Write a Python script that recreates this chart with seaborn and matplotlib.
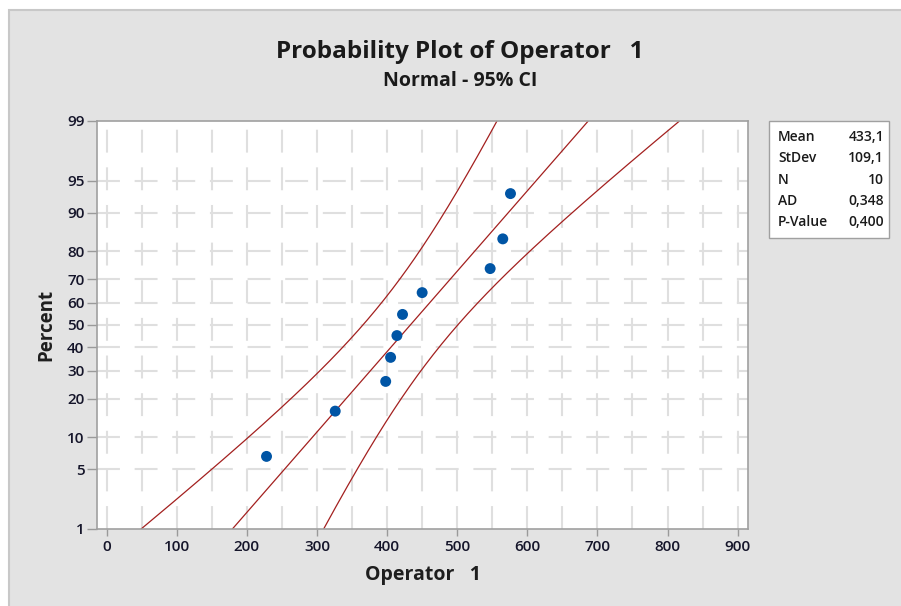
import math
import numpy as np
import pandas as pd
import matplotlib
matplotlib.use("Agg")
import matplotlib.pyplot as plt
from matplotlib.patches import Rectangle
import seaborn as sns

# ---- data ----
operator_values = [228, 326, 398, 405, 414, 422, 450, 547, 565, 576]
percent_positions = [6.7, 16.3, 26.0, 35.6, 45.2, 54.8, 64.4, 74.0, 83.7, 93.3]
mean_val = 433.1
stdev_val = 109.1
n_obs = 10
ad_val = "0,348"
p_value = "0,400"
y_tick_pct = [1, 5, 10, 20, 30, 40, 50, 60, 70, 80, 90, 95, 99]
x_ticks = [0, 100, 200, 300, 400, 500, 600, 700, 800, 900]

sns.set_theme(style="white")
plt.rcParams['font.family'] = ['Open Sans', 'DejaVu Sans']
plt.rcParams['lines.scale_dashes'] = False


def norm_ppf(p):
    # inverse standard normal via Newton iterations on erf
    z = 0.0
    for _ in range(60):
        cdf = 0.5 * (1 + math.erf(z / math.sqrt(2)))
        pdf = math.exp(-z * z / 2) / math.sqrt(2 * math.pi)
        z -= (cdf - p) / pdf
    return z


pts = pd.DataFrame({"x": operator_values,
                    "z": [norm_ppf(p / 100) for p in percent_positions]})

# fitted line and 95% CI from the reported statistics
zline = np.linspace(norm_ppf(0.01), norm_ppf(0.99), 200)
fit = mean_val + stdev_val * zline
se = stdev_val * np.sqrt(1 / n_obs + zline ** 2 / (2 * n_obs))
lines = pd.concat([
    pd.DataFrame({"x": fit, "z": zline, "kind": "fit"}),
    pd.DataFrame({"x": fit - 1.96 * se, "z": zline, "kind": "lower"}),
    pd.DataFrame({"x": fit + 1.96 * se, "z": zline, "kind": "upper"}),
])

fig = plt.figure(figsize=(9.01, 6.06), dpi=100)
fig.patch.set_facecolor("white")
fig.patches.append(Rectangle((9 / 901, -0.01), 1.0, (606 - 10) / 606 + 0.01,
                             transform=fig.transFigure, facecolor="#E3E3E3",
                             edgecolor="#C8C8C8", linewidth=1.5, zorder=-5))

ax = fig.add_axes([97 / 901, 1 - 529 / 606, (748 - 97) / 901, (529 - 121) / 606])
ax.set_zorder(1)
ax.set_facecolor("white")

zlo, zhi = norm_ppf(0.01), norm_ppf(0.99)
ax.set_xlim(-13.8, 914.8)
ax.set_ylim(zlo, zhi)

# dashed grid
grid_kw = dict(color="#DFDFDF", linewidth=1.5, linestyle=(0, (16.5, 10.6)), zorder=0.5)
for gx in np.arange(0, 901, 50):
    ax.axvline(gx, **grid_kw)
for p in y_tick_pct[1:-1]:
    ax.axhline(norm_ppf(p / 100), **grid_kw)

for kind, sub in lines.groupby("kind"):
    sns.lineplot(data=sub, x="x", y="z", sort=False, estimator=None, ax=ax,
                 color="#A3201F", linewidth=0.9, zorder=2)

sns.scatterplot(data=pts, x="x", y="z", ax=ax, color="#0055A5", s=62,
                edgecolor="none", zorder=3)

ax.set_yticks([norm_ppf(p / 100) for p in y_tick_pct])
ax.set_yticklabels([str(p) for p in y_tick_pct])
ax.set_xticks(x_ticks)
ax.set_xticklabels([str(t) for t in x_ticks])
ax.tick_params(axis="both", direction="out", colors="#9A9A9A", labelcolor="#15152A",
               labelsize=11)
ax.tick_params(axis="y", length=7, width=1, left=True, pad=2)
ax.tick_params(axis="x", length=5, width=1, bottom=True, pad=3)
for lab in ax.get_xticklabels() + ax.get_yticklabels():
    lab.set_fontweight("semibold")
for s in ax.spines.values():
    s.set_color("#A0A0A0")
    s.set_linewidth(1.2)

ax.set_xlabel("Operator   1", fontsize=14, fontweight="bold", color="#1E1E1E", labelpad=8)
ax.set_ylabel("Percent", fontsize=13.5, fontweight="bold", color="#1E1E1E", labelpad=8)

fig.text(460 / 901, 1 - 52 / 606, "Probability Plot of Operator   1", ha="center",
         va="center", fontsize=17.5, fontweight="bold", color="#1A1A1A")
fig.text(460 / 901, 1 - 81 / 606, "Normal - 95% CI", ha="center", va="center",
         fontsize=14, fontweight="bold", color="#1A1A1A")

# statistics box
fig.patches.append(Rectangle((769 / 901, 1 - 238 / 606), (889 - 769) / 901, (238 - 121) / 606,
                             transform=fig.transFigure, facecolor="white",
                             edgecolor="#A0A0A0", linewidth=1.0, zorder=1))
stats_labels = ["Mean", "StDev", "N", "AD", "P-Value"]
stats_values = ["433,1", "109,1", "10", ad_val, p_value]
rows_y = [137, 158, 180, 201, 222]
for lab, val, ry in zip(stats_labels, stats_values, rows_y):
    fig.text(778 / 901, 1 - ry / 606, lab, ha="left", va="center", fontsize=10,
             fontweight="semibold", color="#1A1A1A", zorder=5)
    fig.text(884 / 901, 1 - ry / 606, val, ha="right", va="center", fontsize=10,
             fontweight="semibold", color="#1A1A1A", zorder=5)

fig.savefig("out.png", dpi=100, facecolor=fig.get_facecolor())
